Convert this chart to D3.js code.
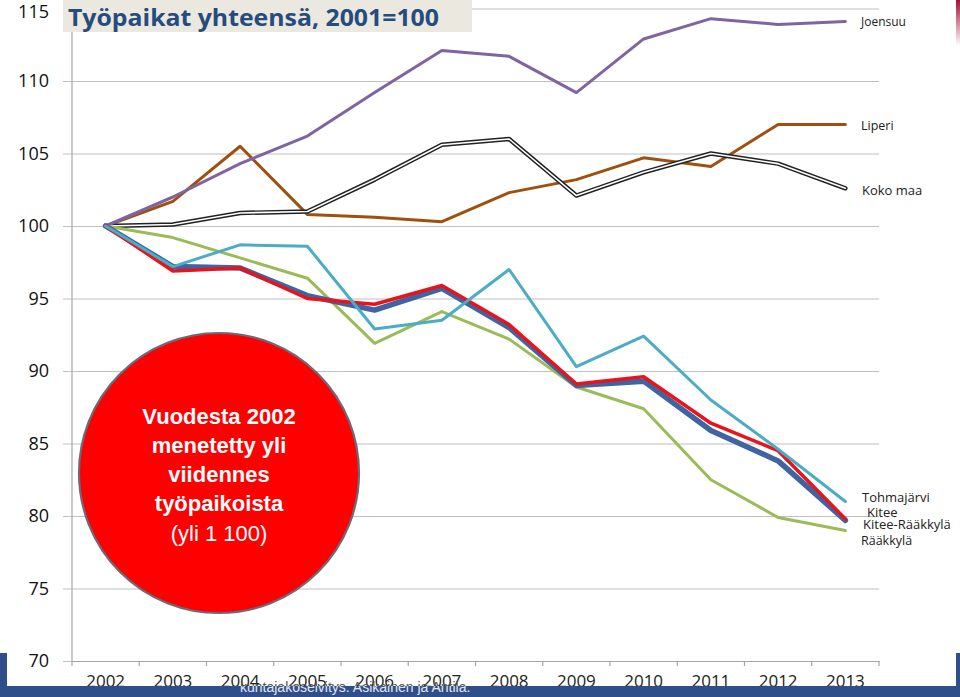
<!DOCTYPE html>
<html><head><meta charset="utf-8">
<script src="https://cdn.jsdelivr.net/npm/d3@7/dist/d3.min.js"></script>
<style>
html,body{margin:0;padding:0;background:#fff;}
svg{display:block;}
</style></head>
<body>
<svg id="chart" width="960" height="697"></svg>
<script>
const years = ["2002","2003","2004","2005","2006","2007","2008","2009","2010","2011","2012","2013"];
const yTicks = [70,75,80,85,90,95,100,105,110,115];
const joensuu      = [100,102.0,104.3,106.2,109.2,112.1,111.7,109.2,112.9,114.3,113.9,114.1];
const liperi       = [100,101.7,105.5,100.8,100.6,100.3,102.3,103.2,104.7,104.1,107.0,107.0];
const kokoMaa      = [100,100.1,100.9,101.0,103.2,105.6,106.0,102.1,103.7,105.0,104.3,102.6];
const tohmajarvi   = [100,97.2,98.7,98.6,92.9,93.5,97.0,90.3,92.4,88.0,84.6,81.0];
const kitee        = [100,96.9,97.1,95.0,94.6,95.9,93.2,89.1,89.6,86.4,84.5,79.8];
const kiteeRaakkyla= [100,97.2,97.1,95.2,94.2,95.7,93.0,89.0,89.3,85.9,83.8,79.7];
const raakkyla     = [100,99.2,97.8,96.4,91.9,94.1,92.2,88.9,87.4,82.5,79.9,79.0];
const seriesNames = ["Joensuu","Liperi","Koko maa","Tohmajärvi","Kitee","Kitee-Rääkkylä","Rääkkylä"];
const titleText = "Työpaikat yhteensä, 2001=100";
const circleLines = ["Vuodesta 2002","menetetty yli","viidennes","työpaikoista","(yli 1 100)"];
const footerText = "kuntajakoselvitys. Asikainen ja Antila.";

const svg = d3.select("#chart");
const x = d3.scaleBand().domain(years).range([72, 879]);
const cx = d => x(d) + x.bandwidth()/2;
const y = d3.scaleLinear().domain([70,115]).range([661, 8.5]);

// gridlines
const yAxis = d3.axisLeft(y).tickValues(yTicks).tickSize(-(879-63)).tickFormat(d3.format("d")).tickPadding(14);
const gy = svg.append("g").attr("transform","translate(63,0)").call(yAxis);
gy.select(".domain").remove();
gy.selectAll(".tick line").attr("stroke","#c0c0c0").attr("stroke-width",1.2);
gy.selectAll(".tick text").attr("font-family","Open Sans, sans-serif").attr("font-size",18).attr("fill","#111")
  .attr("dy",d=>d===115?"0.5em":"0.32em");

// y axis line
svg.append("line").attr("x1",72).attr("x2",72).attr("y1",y(115)).attr("y2",y(70))
  .attr("stroke","#a6a6a6").attr("stroke-width",1.2);

// x axis
const xAxis = d3.axisBottom(x).tickSize(0).tickPadding(14);
const gx = svg.append("g").attr("transform",`translate(0,${y(70)})`).call(xAxis);
gx.select(".domain").attr("stroke","#a6a6a6").attr("stroke-width",1.2);
gx.selectAll(".tick text").attr("font-family","Open Sans, sans-serif").attr("font-size",17).attr("fill","#222");
// boundary ticks
const bounds = years.map(d => x(d)).concat([x(years[years.length-1]) + x.bandwidth()]);
svg.append("g").selectAll("line").data(bounds).join("line")
  .attr("x1",d=>d).attr("x2",d=>d).attr("y1",y(70)).attr("y2",y(70)+5)
  .attr("stroke","#a6a6a6").attr("stroke-width",1.2);

// title box
svg.append("rect").attr("x",63).attr("y",0).attr("width",409).attr("height",32).attr("fill","#ebe8e0");
svg.append("text").attr("x",68).attr("y",26).text(titleText)
  .attr("font-family","Open Sans, sans-serif").attr("font-weight",700).attr("font-size",22.5)
  .attr("fill","#264b7d").attr("textLength",371).attr("lengthAdjust","spacingAndGlyphs");

// lines
const line = d3.line().x((d,i)=>cx(years[i])).y(d=>y(d));
const g = svg.append("g").attr("fill","none").attr("stroke-linejoin","round").attr("stroke-linecap","round");
function draw(data,color,w){ g.append("path").datum(data).attr("d",line).attr("stroke",color).attr("stroke-width",w); }
draw(liperi,"#9e500f",3);
draw(kokoMaa,"#222",4.5); draw(kokoMaa,"#fff",1.6);
draw(joensuu,"#8064a2",3);
draw(raakkyla,"#9bbb59",3);
draw(kiteeRaakkyla,"#3e64a2",5.5);
draw(kitee,"#e8131b",3.5);
draw(tohmajarvi,"#4bacc6",3);

// series labels
const labelY = [22,126,190,497,512,524,541];
const labelX = [861,861,862,862,867,863,861];
const labelSize = [12,12.5,13,13,13,13,12.5];
svg.append("g").selectAll("text").data(seriesNames).join("text")
  .attr("x",(d,i)=>labelX[i]).attr("y",(d,i)=>labelY[i]).attr("dy","0.35em")
  .attr("font-family","Open Sans, sans-serif").attr("font-size",(d,i)=>labelSize[i]).attr("fill","#222")
  .text(d=>d);

// circle
svg.append("circle").attr("cx",219).attr("cy",473).attr("r",140)
  .attr("fill","#fe0000").attr("stroke","#6b6b78").attr("stroke-width",2.2);
svg.append("g").selectAll("text").data(circleLines).join("text")
  .attr("x",219).attr("y",(d,i)=>424 + i*29 + (i===4?1:0)).attr("text-anchor","middle")
  .attr("font-family","Liberation Sans, Arial, sans-serif").attr("font-size",22)
  .attr("font-weight",(d,i)=>i<4?700:400).attr("fill","#fff").text(d=>d);

// bottom band & decorations
const bandColor = "#2e4f8a";
svg.append("rect").attr("x",0).attr("y",686).attr("width",960).attr("height",11).attr("fill",bandColor);
svg.append("rect").attr("x",0).attr("y",653).attr("width",7).attr("height",44).attr("fill",bandColor);
svg.append("rect").attr("x",956).attr("y",653).attr("width",4).attr("height",44).attr("fill",bandColor);
const defs = svg.append("defs");
const grad = defs.append("linearGradient").attr("id","rg").attr("x1",0).attr("x2",0).attr("y1",0).attr("y2",1);
grad.append("stop").attr("offset","0%").attr("stop-color","#a3123a");
grad.append("stop").attr("offset","100%").attr("stop-color","#a3123a").attr("stop-opacity",0);
svg.append("rect").attr("x",956).attr("y",0).attr("width",4).attr("height",46).attr("fill","url(#rg)");
defs.append("clipPath").attr("id","above").append("rect").attr("x",0).attr("y",0).attr("width",960).attr("height",686);
defs.append("clipPath").attr("id","below").append("rect").attr("x",0).attr("y",686).attr("width",960).attr("height",11);
["above","below"].forEach(c=>{
  svg.append("text").attr("x",240).attr("y",692).attr("clip-path",`url(#${c})`)
    .attr("font-family","Liberation Sans, Arial, sans-serif").attr("font-size",14)
    .attr("fill",c==="above"?"#555":"#e6e6ee").text(footerText);
});
</script>
</body></html>
